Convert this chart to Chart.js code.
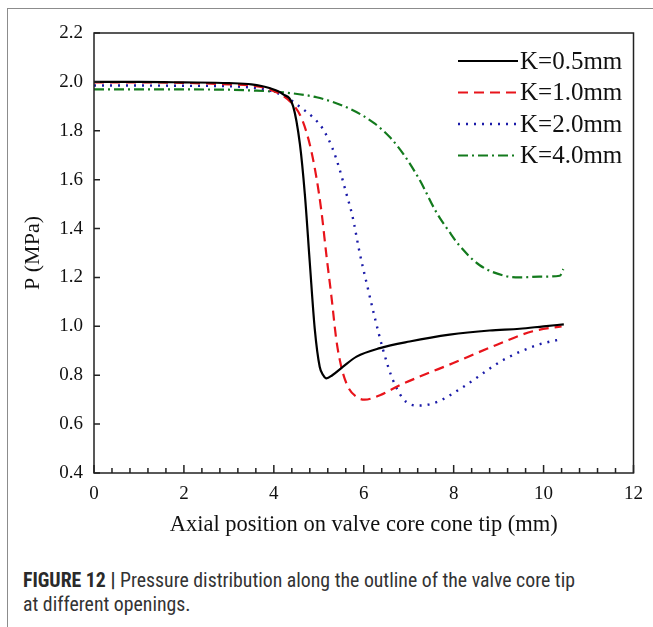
<!DOCTYPE html>
<html>
<head>
<meta charset="utf-8">
<script src="https://cdn.jsdelivr.net/npm/chart.js@4"></script>
<style>
  body { margin: 0; background: #fff; width: 653px; height: 627px; overflow: hidden; position: relative; }
  #frame { position: absolute; left: 7px; top: 8px; width: 660px; height: 640px;
           border-left: 1.5px solid #8c8c8c; border-top: 1.5px solid #8c8c8c; }
  #wrap { position: absolute; left: 0; top: 0; width: 653px; height: 545px; }
  #caption { position: absolute; left: 23px; top: 569px; width: 625px;
             font-family: "Liberation Sans Narrow", "Roboto Condensed", "DejaVu Sans Condensed", sans-serif;
             font-size: 19.8px; line-height: 24px; color: #333; }
  #caption b { color: #2a2a2a; }
</style>
</head>
<body>
<div id="frame"></div>
<div id="wrap"><canvas id="pressure-chart"></canvas></div>
<div id="caption"><b>FIGURE 12 |</b> Pressure distribution along the outline of the valve core tip<br>at different openings.</div>
<script>
"use strict";
// K = 0.5 mm
const xK05 = [0, 1, 2, 3, 3.5, 3.9, 4.2, 4.43, 4.58, 4.69, 4.8, 4.91, 5.02, 5.1, 5.17, 5.3, 5.54, 5.84, 6.36, 7.02, 7.91, 8.8, 9.47, 10.0, 10.45];
const pK05 = [2.0, 2.0, 1.998, 1.995, 1.99, 1.975, 1.95, 1.9, 1.745, 1.54, 1.26, 0.99, 0.835, 0.8, 0.787, 0.8, 0.835, 0.876, 0.911, 0.938, 0.966, 0.983, 0.99, 1.0, 1.008];
// K = 1.0 mm
const xK10 = [0, 1, 2, 3, 3.5, 3.9, 4.36, 4.61, 4.8, 4.95, 5.06, 5.17, 5.28, 5.39, 5.5, 5.65, 5.84, 6.02, 6.36, 6.8, 7.24, 7.98, 8.95, 9.76, 10.4];
const pK10 = [1.998, 1.998, 1.996, 1.99, 1.985, 1.97, 1.92, 1.854, 1.744, 1.606, 1.468, 1.29, 1.124, 0.945, 0.835, 0.752, 0.711, 0.7, 0.718, 0.759, 0.794, 0.849, 0.924, 0.98, 1.0];
// K = 2.0 mm
const xK20 = [0, 1, 2, 3, 3.5, 3.9, 4.3, 4.6, 4.9, 5.1, 5.3, 5.45, 5.61, 5.75, 5.91, 6.06, 6.24, 6.43, 6.65, 6.95, 7.24, 7.62, 8.21, 9.1, 9.87, 10.4];
const pK20 = [1.985, 1.985, 1.984, 1.982, 1.977, 1.965, 1.935, 1.895, 1.85, 1.805, 1.73, 1.65, 1.545, 1.45, 1.3, 1.18, 1.04, 0.904, 0.78, 0.69, 0.676, 0.69, 0.752, 0.862, 0.924, 0.948];
// K = 4.0 mm
const xK40 = [0, 1, 2, 3, 3.5, 4.21, 4.95, 5.69, 6.24, 6.6, 6.9, 7.24, 7.62, 7.91, 8.13, 8.58, 9.17, 9.47, 9.9, 10.36, 10.44];
const pK40 = [1.969, 1.969, 1.969, 1.968, 1.965, 1.957, 1.937, 1.89, 1.83, 1.77, 1.7, 1.6, 1.465, 1.385, 1.33, 1.25, 1.205, 1.2, 1.203, 1.207, 1.234];

const seriesLabels = ["K=0.5mm", "K=1.0mm", "K=2.0mm", "K=4.0mm"];
const yTicks = [0.4, 0.6, 0.8, 1.0, 1.2, 1.4, 1.6, 1.8, 2.0, 2.2];
const xTicks = [0, 2, 4, 6, 8, 10, 12];

const serif = "'Liberation Serif', 'Times New Roman', serif";
const toPoints = (xs, ys) => xs.map((x, i) => ({ x: x, y: ys[i] }));

const styles = [
    { color: "#000000", dash: [], width: 2.2 },
    { color: "#e8141b", dash: [10, 6], width: 2.2 },
    { color: "#1a1aa8", dash: [2, 6], width: 2.4 },
    { color: "#137a1d", dash: [10, 4, 2, 4], width: 2.2 },
];
const allX = [xK05, xK10, xK20, xK40];
const allP = [pK05, pK10, pK20, pK40];

const datasets = seriesLabels.map((label, i) => ({
    label: label,
    data: toPoints(allX[i], allP[i]),
    borderColor: styles[i].color,
    borderDash: styles[i].dash,
    borderWidth: styles[i].width,
    pointRadius: 0,
    fill: false,
    cubicInterpolationMode: "monotone",
}));

// inner ticks, closed box and the legend
const frameAndLegend = {
    id: "frameAndLegend",
    afterDatasetsDraw(chart) {
        const ctx = chart.ctx;
        const a = chart.chartArea;
        const xs = chart.scales.x;
        const ys = chart.scales.y;
        ctx.save();
        ctx.strokeStyle = "#222";
        ctx.lineWidth = 1.5;
        ctx.setLineDash([]);
        ctx.strokeRect(a.left, a.top, a.right - a.left, a.bottom - a.top);
        ctx.beginPath();
        xs.ticks.forEach((t) => {
            const px = xs.getPixelForValue(t.value);
            const major = Math.abs(t.value / 2 - Math.round(t.value / 2)) < 1e-6;
            ctx.moveTo(px, a.bottom);
            ctx.lineTo(px, a.bottom - (major ? 8 : 5));
        });
        ys.ticks.forEach((t) => {
            const py = ys.getPixelForValue(t.value);
            ctx.moveTo(a.left, py);
            ctx.lineTo(a.left + 6, py);
        });
        ctx.stroke();

        // legend
        ctx.font = "25px " + serif;
        ctx.textBaseline = "middle";
        ctx.fillStyle = "#111";
        chart.data.datasets.forEach((ds, i) => {
            const y = 61 + i * 31.5;
            ctx.beginPath();
            ctx.strokeStyle = ds.borderColor;
            ctx.lineWidth = ds.borderWidth;
            ctx.setLineDash(ds.borderDash);
            ctx.moveTo(458, y);
            ctx.lineTo(518, y);
            ctx.stroke();
            ctx.fillText(ds.label, 520, y + 1);
        });
        ctx.restore();
    },
};

const pressureChart = new Chart(document.getElementById("pressure-chart"), {
    type: "line",
    data: { datasets: datasets },
    options: {
        responsive: true,
        maintainAspectRatio: false,
        animation: false,
        layout: { padding: { left: 0, top: 33, right: 18, bottom: 0 } },
        plugins: {
            legend: { display: false },
            tooltip: { enabled: false },
        },
        scales: {
            x: {
                type: "linear",
                min: 0,
                max: 12,
                afterFit: (scale) => { scale.height = 72; },
                ticks: {
                    stepSize: 0.4,
                    autoSkip: false,
                    maxRotation: 0,
                    padding: 10,
                    color: "#111",
                    font: { family: serif, size: 19 },
                    callback: (v) => {
                        const r = Math.round(v);
                        return Math.abs(v - r) < 1e-6 && xTicks.includes(r) ? String(r) : "";
                    },
                },
                grid: { display: false, drawTicks: false },
                border: { display: false },
                title: {
                    display: true,
                    text: "Axial position on valve core cone tip (mm)",
                    color: "#111",
                    font: { family: serif, size: 22.5 },
                    padding: { top: 0, bottom: 6 },
                },
            },
            y: {
                min: 0.4,
                max: 2.2,
                afterFit: (scale) => { scale.width = 94; },
                afterBuildTicks: (scale) => {
                    scale.ticks = yTicks.map((v) => ({ value: v }));
                },
                ticks: {
                    padding: 11,
                    color: "#111",
                    font: { family: serif, size: 19 },
                    callback: (v) => Number(v).toFixed(1),
                },
                grid: { display: false, drawTicks: false },
                border: { display: false },
                title: {
                    display: true,
                    text: "P (MPa)",
                    color: "#111",
                    font: { family: serif, size: 22 },
                    padding: { top: 20, bottom: 0 },
                },
            },
        },
    },
    plugins: [frameAndLegend],
});
</script>
</body>
</html>
